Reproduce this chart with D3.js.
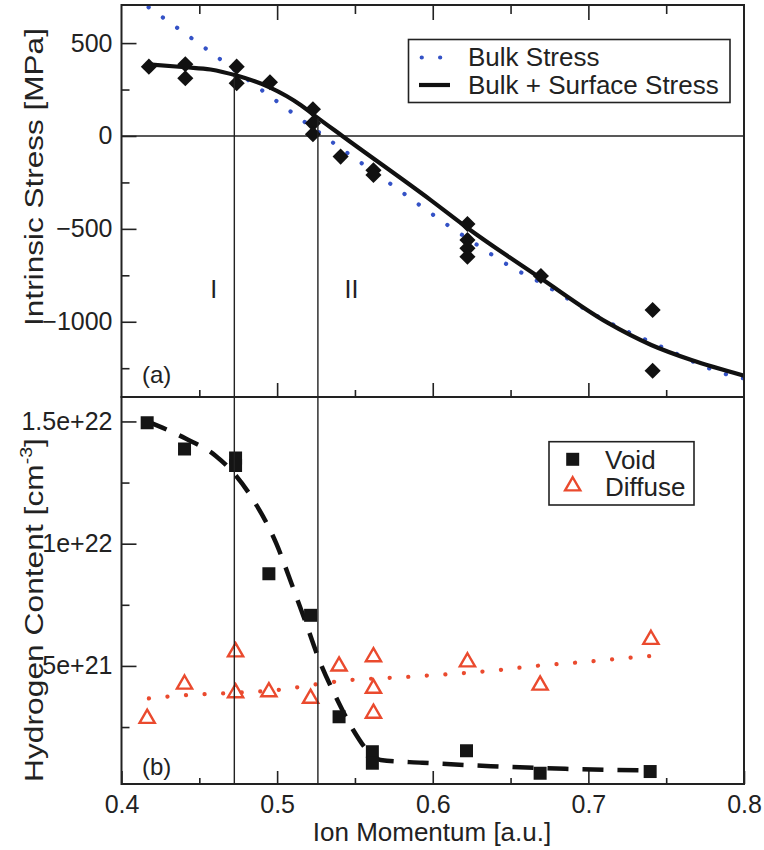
<!DOCTYPE html>
<html>
<head>
<meta charset="utf-8">
<script src="https://cdn.jsdelivr.net/npm/d3@7"></script>
<style>
  html, body { margin: 0; padding: 0; background: #fff; }
  svg { display: block; }
  text { font-family: "Liberation Sans", Arial, Helvetica, sans-serif; fill: #222; }
</style>
</head>
<body>
<svg id="chart" width="764" height="850"></svg>
<script>
// ---------- DATA ----------
const xTicks = [0.4, 0.5, 0.6, 0.7, 0.8];
const xMinorTicks = [0.45, 0.55, 0.65, 0.75];
const stressTicks = [500, 0, -500, -1000];
const stressMinorTicks = [250, -250, -750, -1250];
const hTicks = [1.5e22, 1e22, 5e21];
const hTickLabels = ["1.5e+22", "1e+22", "5e+21"];
const hMinorTicks = [1.25e22, 7.5e21, 2.5e21];

// measured stress (diamonds) [ion momentum, MPa]
const stressPoints = [
  [0.4176, 373], [0.441, 386], [0.441, 311], [0.474, 373], [0.474, 284],
  [0.4954, 289], [0.523, 144], [0.523, 68], [0.523, 9], [0.5408, -111],
  [0.5619, -185], [0.5619, -210], [0.6223, -474], [0.6223, -560],
  [0.6223, -605], [0.6223, -650], [0.6695, -754], [0.7413, -937], [0.7413, -1264]
];
// bulk stress model (blue dotted)
const bulkCurve = [
  [0.4174, 693], [0.456, 459], [0.4946, 219], [0.5333, -20], [0.5719, -252],
  [0.6105, -485], [0.6302, -596], [0.6502, -704], [0.6694, -790], [0.7027, -955],
  [0.7145, -1009], [0.7455, -1129], [0.7905, -1287], [0.8, -1305]
];
// bulk + surface stress model (solid)
const bulkSurfCurve = [
  [0.4174, 385], [0.4412, 370], [0.4572, 358], [0.474, 325], [0.4952, 262],
  [0.5151, 167], [0.5228, 118], [0.5419, 0], [0.5987, -345], [0.6223, -495],
  [0.6694, -766], [0.7123, -1005], [0.7404, -1125], [0.7662, -1206], [0.8, -1290]
];
// hydrogen content, void (squares) [ion momentum, cm^-3]
const voidPoints = [
  [0.4165, 1.495e22], [0.4405, 1.387e22], [0.4733, 1.35e22], [0.4733, 1.32e22],
  [0.4947, 8.77e21], [0.5215, 7.07e21], [0.5398, 2.92e21], [0.5612, 1.49e21],
  [0.5612, 1.02e21], [0.6217, 1.53e21], [0.669, 6.1e20], [0.7397, 6.8e20]
];
const voidCurve = [
  [0.4165, 1.5e22], [0.4412, 1.43e22], [0.4604, 1.36e22], [0.4733, 1.28e22],
  [0.4846, 1.18e22], [0.4995, 1.0e22], [0.5102, 8.2e21], [0.5177, 6.9e21],
  [0.5273, 5.2e21], [0.538, 3.7e21], [0.5487, 2.4e21], [0.5601, 1.4e21],
  [0.5665, 1.15e21], [0.5932, 1.04e21], [0.6373, 9.0e20], [0.6851, 7.9e20],
  [0.7405, 7.2e20]
];
// hydrogen content, diffuse (triangles)
const diffusePoints = [
  [0.4165, 2.85e21], [0.4405, 4.25e21], [0.4733, 5.57e21], [0.4733, 3.9e21],
  [0.4947, 3.94e21], [0.5215, 3.67e21], [0.5398, 4.99e21], [0.5619, 5.37e21],
  [0.5619, 4.08e21], [0.5619, 3.06e21], [0.6223, 5.16e21], [0.669, 4.21e21],
  [0.7402, 6.08e21]
];
const diffuseCurve = [
  [0.4176, 3.67e21], [0.4405, 3.8e21], [0.4733, 3.9e21], [0.505, 4.05e21],
  [0.5251, 4.25e21], [0.5463, 4.42e21], [0.5721, 4.51e21], [0.6, 4.62e21],
  [0.6375, 4.8e21], [0.6663, 5.0e21], [0.7027, 5.19e21], [0.7274, 5.34e21],
  [0.7392, 5.4e21]
];
// regime boundaries: [ion momentum, stress where the line starts]
const regimeLines = [[0.4725, 325], [0.5262, 95]];
const regimeLabels = [[0.4592, "I"], [0.5478, "II"]];
const legendTop = ["Bulk Stress", "Bulk + Surface Stress"];
const legendBottom = ["Void", "Diffuse"];

// ---------- LAYOUT ----------
const L = 121.5, R = 744;
const T1 = 5, B1 = 397, T2 = 397, B2 = 784;
const ink = "#222";
const blue = "#3452c6";
const red = "#ea4a2e";

const svg = d3.select("#chart");
const x = d3.scaleLinear().domain([0.4, 0.8]).range([L, R]);
const y1 = d3.scaleLinear().domain([-1405, 705]).range([B1, T1]);
const y2 = d3.scaleLinear().domain([1.7e20, 1.6e22]).range([B2, T2]);

const defs = svg.append("defs");
defs.append("clipPath").attr("id", "clip1").append("rect")
  .attr("x", L).attr("y", T1).attr("width", R - L).attr("height", B1 - T1);
defs.append("clipPath").attr("id", "clip2").append("rect")
  .attr("x", L).attr("y", T2).attr("width", R - L).attr("height", B2 - T2);

function styleAxis(g) {
  g.select(".domain").remove();
  g.selectAll("line").attr("stroke", ink).attr("stroke-width", 1.6);
  g.selectAll("text").attr("font-size", 25).attr("fill", ink)
    .attr("font-family", '"Liberation Sans", Arial, sans-serif');
}

// ---------- PANEL (a) ----------
const p1 = svg.append("g");
p1.append("line").attr("x1", L).attr("x2", R).attr("y1", y1(0)).attr("y2", y1(0))
  .attr("stroke", ink).attr("stroke-width", 1.4);

p1.append("g").attr("transform", `translate(${L},0)`)
  .call(d3.axisLeft(y1).tickValues(stressTicks).tickSize(-15).tickPadding(9).tickFormat(d3.format("d")))
  .call(styleAxis);
p1.append("g").attr("transform", `translate(${L},0)`)
  .call(d3.axisLeft(y1).tickValues(stressMinorTicks).tickSize(-8).tickFormat(""))
  .call(styleAxis);
p1.append("g").attr("transform", `translate(0,${T1})`)
  .call(d3.axisTop(x).tickValues(xTicks.slice(1, -1)).tickSize(-15).tickFormat(""))
  .call(styleAxis);
p1.append("g").attr("transform", `translate(0,${T1})`)
  .call(d3.axisTop(x).tickValues(xMinorTicks).tickSize(-9).tickFormat(""))
  .call(styleAxis);
p1.append("g").attr("transform", `translate(0,${B1})`)
  .call(d3.axisBottom(x).tickValues(xTicks.slice(1, -1)).tickSize(-14).tickFormat(""))
  .call(styleAxis);
p1.append("g").attr("transform", `translate(0,${B1})`)
  .call(d3.axisBottom(x).tickValues(xMinorTicks).tickSize(-7).tickFormat(""))
  .call(styleAxis);

const line1 = d3.line().x(d => x(d[0])).y(d => y1(d[1])).curve(d3.curveMonotoneX);
const c1 = p1.append("g").attr("clip-path", "url(#clip1)");
c1.append("path").datum(bulkCurve).attr("d", line1)
  .attr("fill", "none").attr("stroke", blue).attr("stroke-width", 4.2)
  .attr("stroke-linecap", "round").attr("stroke-dasharray", "0.1 17.5");
c1.append("path").datum(bulkSurfCurve).attr("d", line1)
  .attr("fill", "none").attr("stroke", "#111").attr("stroke-width", 4.2);

c1.selectAll(".dia").data(stressPoints).join("path")
  .attr("d", d3.symbol(d3.symbolSquare, 130)())
  .attr("transform", d => `translate(${x(d[0])},${y1(d[1])}) rotate(45)`)
  .attr("fill", "#111");

p1.selectAll(".reg").data(regimeLabels).join("text")
  .attr("x", d => x(d[0])).attr("y", 298).attr("text-anchor", "middle")
  .attr("font-size", 25).text(d => d[1]);
p1.append("text").attr("x", 142).attr("y", 383).attr("font-size", 24).text("(a)");

// legend (a)
const lg1 = p1.append("g");
lg1.append("rect").attr("x", 408.5).attr("y", 39.5).attr("width", 321.5).attr("height", 63)
  .attr("fill", "#fff").attr("stroke", ink).attr("stroke-width", 1.6);
lg1.append("line").attr("x1", 421.7).attr("x2", 441).attr("y1", 57.5).attr("y2", 57.5)
  .attr("stroke", blue).attr("stroke-width", 4.2).attr("stroke-linecap", "round")
  .attr("stroke-dasharray", "0.1 18.3");
lg1.append("line").attr("x1", 419).attr("x2", 450).attr("y1", 85).attr("y2", 85)
  .attr("stroke", "#111").attr("stroke-width", 4.2);
lg1.selectAll("text").data(legendTop).join("text")
  .attr("x", 468).attr("y", (d, i) => 66 + i * 28).attr("font-size", 26).text(d => d);

// ---------- PANEL (b) ----------
const p2 = svg.append("g");
p2.append("g").attr("transform", `translate(${L},0)`)
  .call(d3.axisLeft(y2).tickValues(hTicks).tickSize(-15).tickPadding(9)
    .tickFormat((d, i) => hTickLabels[i]))
  .call(styleAxis);
p2.append("g").attr("transform", `translate(${L},0)`)
  .call(d3.axisLeft(y2).tickValues(hMinorTicks).tickSize(-8).tickFormat(""))
  .call(styleAxis);
p2.append("g").attr("transform", `translate(0,${B2})`)
  .call(d3.axisBottom(x).tickValues(xTicks).tickSize(-13).tickPadding(11).tickFormat(d3.format(".1f")))
  .call(styleAxis);
p2.append("g").attr("transform", `translate(0,${B2})`)
  .call(d3.axisBottom(x).tickValues(xMinorTicks).tickSize(-6).tickFormat(""))
  .call(styleAxis);

svg.selectAll(".vl").data(regimeLines).join("line")
  .attr("x1", d => x(d[0])).attr("x2", d => x(d[0]))
  .attr("y1", d => y1(d[1])).attr("y2", B2)
  .attr("stroke", ink).attr("stroke-width", 1.4);

const line2 = d3.line().x(d => x(d[0])).y(d => y2(d[1])).curve(d3.curveMonotoneX);
const c2 = p2.append("g").attr("clip-path", "url(#clip2)");
c2.append("path").datum(diffuseCurve).attr("d", line2)
  .attr("fill", "none").attr("stroke", red).attr("stroke-width", 4.2)
  .attr("stroke-linecap", "round").attr("stroke-dasharray", "0.1 18.5");
c2.append("path").datum(voidCurve).attr("d", line2)
  .attr("fill", "none").attr("stroke", "#111").attr("stroke-width", 4.5)
  .attr("stroke-dasharray", "21 14");
c2.selectAll(".sq").data(voidPoints).join("path")
  .attr("d", d3.symbol(d3.symbolSquare, 169)())
  .attr("transform", d => `translate(${x(d[0])},${y2(d[1])})`)
  .attr("fill", "#151515");
c2.selectAll(".tri").data(diffusePoints).join("path")
  .attr("d", d3.symbol(d3.symbolTriangle, 100)())
  .attr("transform", d => `translate(${x(d[0])},${y2(d[1])})`)
  .attr("fill", "none").attr("stroke", red).attr("stroke-width", 2.4);

p2.append("text").attr("x", 142).attr("y", 775).attr("font-size", 24).text("(b)");

// legend (b)
const lg2 = p2.append("g");
lg2.append("rect").attr("x", 549).attr("y", 441.7).attr("width", 145).attr("height", 63.3)
  .attr("fill", "#fff").attr("stroke", ink).attr("stroke-width", 1.6);
lg2.append("path").attr("d", d3.symbol(d3.symbolSquare, 169)())
  .attr("transform", "translate(572.7,459.3)").attr("fill", "#151515");
lg2.append("path").attr("d", d3.symbol(d3.symbolTriangle, 100)())
  .attr("transform", "translate(572.7,486)").attr("fill", "none")
  .attr("stroke", red).attr("stroke-width", 2.4);
lg2.selectAll("text").data(legendBottom).join("text")
  .attr("x", 605).attr("y", (d, i) => 468.5 + i * 27.5).attr("font-size", 26).text(d => d);

// frames
svg.append("rect").attr("x", L).attr("y", T1).attr("width", R - L).attr("height", B1 - T1)
  .attr("fill", "none").attr("stroke", ink).attr("stroke-width", 2);
svg.append("rect").attr("x", L).attr("y", T2).attr("width", R - L).attr("height", B2 - T2)
  .attr("fill", "none").attr("stroke", ink).attr("stroke-width", 2);

// axis titles (stretched along their length like the original)
function yTitle(cx, cy, target) {
  const t = svg.append("text").attr("text-anchor", "middle").attr("font-size", 26)
    .attr("transform", `translate(${cx},${cy}) rotate(-90)`);
  return { t, fit() {
    const w = t.node().getBBox().width;
    t.attr("transform", `translate(${cx},${cy}) rotate(-90) scale(${target / w},1)`);
  } };
}
const yt1 = yTitle(43, 177, 298);
yt1.t.text("Intrinsic Stress [MPa]");
yt1.fit();
const yt2 = yTitle(43, 610, 344);
yt2.t.append("tspan").text("Hydrogen Content [cm");
yt2.t.append("tspan").attr("font-size", 16).attr("dy", -11).text("-3");
yt2.t.append("tspan").attr("dy", 11).text("]");
yt2.fit();

svg.append("text").attr("x", 432).attr("y", 841).attr("text-anchor", "middle")
  .attr("font-size", 26).text("Ion Momentum [a.u.]");
</script>
</body>
</html>
